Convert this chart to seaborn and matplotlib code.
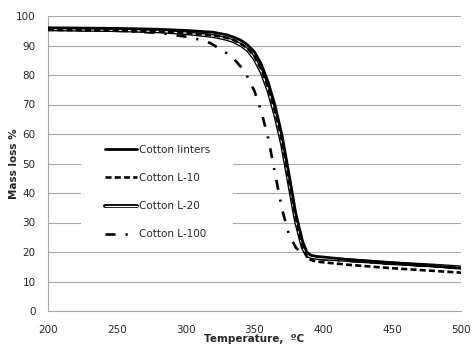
import numpy as np
import pandas as pd
import matplotlib
matplotlib.use("Agg")
import matplotlib.pyplot as plt
import matplotlib.patheffects as pe
from matplotlib.patches import Rectangle
import seaborn as sns

# ---- data ----
temp = [200, 250, 280, 300, 320, 330, 335, 340, 345, 350, 355, 360, 365, 370, 375,
        380, 385, 388, 391, 395, 400, 420, 450, 480, 500]
linters = [96.0, 95.8, 95.5, 95.1, 94.5, 93.6, 92.8, 91.8, 90.2, 87.8, 83.6, 77.5, 69.5,
           59.5, 46.5, 33.0, 23.5, 20.0, 18.9, 18.5, 18.3, 17.3, 16.3, 15.3, 14.5]
l10 = [95.3, 95.0, 94.7, 94.3, 93.5, 92.6, 91.8, 90.6, 89.0, 86.3, 81.8, 75.5, 67.5,
       57.5, 44.5, 31.5, 21.5, 18.4, 17.3, 16.8, 16.5, 15.6, 14.5, 13.6, 13.0]
l20 = [95.5, 95.2, 94.8, 94.2, 93.2, 92.2, 91.4, 90.2, 88.5, 85.5, 81.0, 74.8, 66.5,
       56.5, 43.5, 30.5, 21.5, 19.0, 18.3, 18.0, 17.8, 17.2, 16.2, 15.4, 14.8]
temp100 = [200, 250, 280, 300, 310, 318, 325, 330, 335, 340, 345, 350, 355, 360, 365,
           370, 375, 380, 385, 390, 400, 450, 500]
l100 = [95.5, 95.0, 94.3, 93.0, 92.0, 90.8, 88.8, 87.3, 85.5, 82.8, 79.3, 74.5, 67.5,
        58.5, 46.5, 34.5, 26.0, 21.5, 19.2, 18.2, 17.5, 16.0, 14.5]
labels = ["Cotton linters", "Cotton L-10", "Cotton L-20", "Cotton L-100"]
xticks = [200, 250, 300, 350, 400, 450, 500]
yticks = [0, 10, 20, 30, 40, 50, 60, 70, 80, 90, 100]

sns.set_theme(style="white")
plt.rcParams['font.family'] = ['DejaVu Sans']

fig = plt.figure(figsize=(4.74, 3.47), dpi=100)
ax = fig.add_axes([48/474, 1 - 311/347, (461-48)/474, (311-16)/347])

df1 = pd.DataFrame({"T": temp, "m": linters})
df2 = pd.DataFrame({"T": temp, "m": l10})
df3 = pd.DataFrame({"T": temp, "m": l20})
df4 = pd.DataFrame({"T": temp100, "m": l100})

sns.lineplot(data=df1, x="T", y="m", ax=ax, color="black", lw=2.0, label=labels[0], zorder=5)
sns.lineplot(data=df2, x="T", y="m", ax=ax, color="black", lw=1.9, label=labels[1], zorder=4)
ax.lines[-1].set_dashes((2.3, 1.2))
sns.lineplot(data=df3, x="T", y="m", ax=ax, color="white", lw=0.9, label=labels[2], zorder=3)
ax.lines[-1].set_path_effects([pe.Stroke(linewidth=2.8, foreground="black"), pe.Normal()])
sns.lineplot(data=df4, x="T", y="m", ax=ax, color="black", lw=1.9, label=labels[3], zorder=2)
ax.lines[-1].set_dashes((3.8, 3.8, 0.8, 3.8))

ax.set_xlim(200, 500)
ax.set_ylim(0, 100)
ax.set_xticks(xticks)
ax.set_yticks(yticks)
ax.tick_params(axis="both", length=0, labelsize=7.5, colors="#262626")
ax.tick_params(axis="y", pad=9)
ax.tick_params(axis="x", pad=10)
ax.grid(axis="y", color="#a8a8a8", lw=0.8)
ax.grid(axis="x", visible=False)
for s in ["top", "right"]:
    ax.spines[s].set_visible(False)
for s in ["left", "bottom"]:
    ax.spines[s].set_color("#a8a8a8")
    ax.spines[s].set_linewidth(0.8)

ax.set_xlabel("Temperature,  ºC", fontsize=7.5, fontweight="bold", labelpad=-1)
ax.set_ylabel("Mass loss %", fontsize=7.5, fontweight="bold", labelpad=-2)

# white legend background covering the gridlines
ax.add_patch(Rectangle((0.08, 0.214), 0.368, 0.376, transform=ax.transAxes,
                       facecolor="white", edgecolor="none", zorder=1.5))

leg = ax.legend(loc="center", bbox_to_anchor=(0.265, 0.403), frameon=False,
                fontsize=7.5, handlelength=3.1, handletextpad=0.2,
                labelspacing=1.75, borderpad=0.6)
leg.set_zorder(10)

fig.savefig("out.png", dpi=100)
